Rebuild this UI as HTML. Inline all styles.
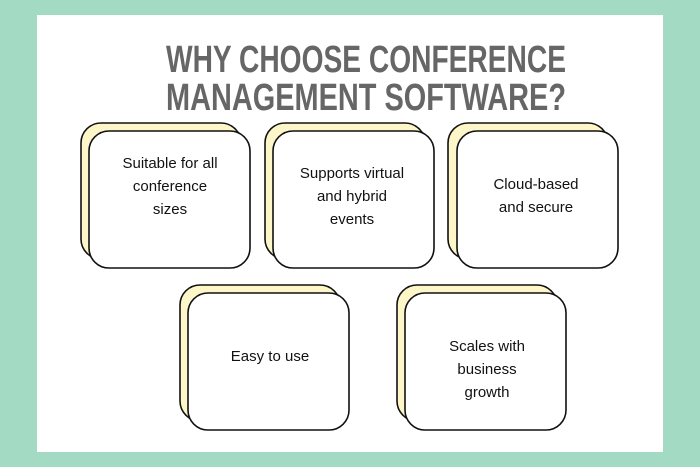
<!DOCTYPE html>
<html><head><meta charset="utf-8"><style>
html,body{margin:0;padding:0;width:700px;height:467px;overflow:hidden;background:#a3dac3}
</style></head><body>
<svg width="700" height="467" viewBox="0 0 700 467" xmlns="http://www.w3.org/2000/svg">
<rect x="0" y="0" width="700" height="467" fill="#a3dac3"/>
<rect x="37" y="15" width="626" height="437" fill="#ffffff"/>
<g font-family="Liberation Sans Narrow, Liberation Sans, sans-serif" font-weight="bold" fill="#666666" font-size="38">
<text x="166" y="72" textLength="400" lengthAdjust="spacingAndGlyphs">WHY CHOOSE CONFERENCE</text>
<text x="166" y="110" textLength="400" lengthAdjust="spacingAndGlyphs">MANAGEMENT SOFTWARE?</text>
</g>
<g stroke="#111" stroke-width="1.6">
<rect x="81" y="123" width="160" height="136" rx="20" fill="#fdf6c8"/>
<rect x="89" y="131" width="161" height="137" rx="20" fill="#fff"/>
<rect x="265" y="123" width="160" height="136" rx="20" fill="#fdf6c8"/>
<rect x="273" y="131" width="161" height="137" rx="20" fill="#fff"/>
<rect x="448" y="123" width="160" height="136" rx="20" fill="#fdf6c8"/>
<rect x="457" y="131" width="161" height="137" rx="20" fill="#fff"/>
<rect x="180" y="285" width="160" height="136" rx="20" fill="#fdf6c8"/>
<rect x="188" y="293" width="161" height="137" rx="20" fill="#fff"/>
<rect x="397" y="285" width="160" height="136" rx="20" fill="#fdf6c8"/>
<rect x="405" y="293" width="161" height="137" rx="20" fill="#fff"/>
</g>
<g font-family="Liberation Sans, sans-serif" font-size="15" fill="#111" text-anchor="middle">
<text x="170" y="168">Suitable for all</text>
<text x="170" y="191">conference</text>
<text x="170" y="214">sizes</text>
<text x="352" y="178">Supports virtual</text>
<text x="352" y="201">and hybrid</text>
<text x="352" y="224">events</text>
<text x="536" y="189">Cloud-based</text>
<text x="536" y="212">and secure</text>
<text x="270" y="361">Easy to use</text>
<text x="487" y="351">Scales with</text>
<text x="487" y="374">business</text>
<text x="487" y="397">growth</text>
</g>
</svg>
</body></html>
